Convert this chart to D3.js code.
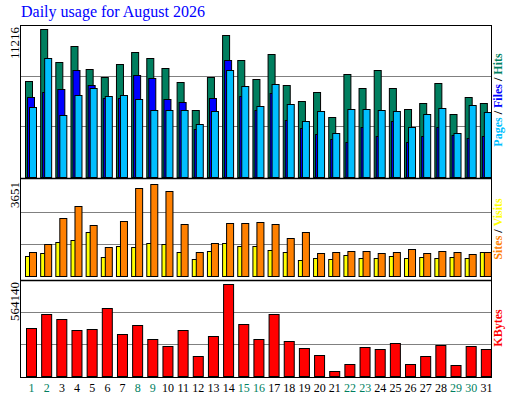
<!DOCTYPE html><html><head><meta charset="utf-8">
<script src="https://cdn.jsdelivr.net/npm/d3@7"></script>
<style>body{margin:0;background:#fff}</style></head><body><svg id="c" width="512" height="400"></svg>
<script>
const days=d3.range(1,32).map(String);
const weekendDays=["1","2","8","9","15","16","22","23","29","30"];
const hits=[7062,10899,8464,9644,7947,7357,8316,9202,8759,8021,6988,4922,7357,10456,8611,7209,9054,6767,5586,6250,4405,7578,6545,7873,6545,4996,5438,6914,4627,5925,5438];
const files=[5881,6272,6471,7873,6767,5807,5807,7504,7283,5734,5512,3520,5807,8611,5955,4922,6176,4184,3594,3151,2782,2561,3667,3003,4110,2561,3003,3667,3077,2856,3003];
const pages=[5143,8759,4553,6029,6545,5955,6029,5734,4922,4922,4922,3889,4848,7873,6693,5217,6840,5365,4110,4848,3225,4996,4996,4922,4848,3667,4627,5069,3225,5291,4774];
const visits=[748,862,1281,1357,1661,710,1129,1090,1243,1205,900,634,938,1243,1129,1129,976,900,596,672,634,786,672,672,748,672,710,672,710,672,900];
const sites=[900,1205,2194,2650,1927,1090,2080,3335,3487,3221,1965,900,1243,2003,2003,2041,1965,1433,1661,862,900,938,938,862,900,1014,862,938,900,824,900];
const kbytes=[280108,362378,333000,268356,274232,397636,244850,297738,215468,174333,268356,115569,233097,538670,303614,215468,362378,203715,162580,121446,27423,68558,168457,156704,191962,68558,115569,180209,62682,174333,156704];
const maxLabels=["11216","3651","564140"];
const maxVals=[11216,3651,564140];

const svg=d3.select("#c");
const L=20,R=491;
const x=d3.scaleBand().domain(days).range([L+1,R]);
const panels=[{t:25,b:177},{t:180,b:276},{t:280,b:376}];
const ys=panels.map((p,i)=>d3.scaleLinear().domain([0,maxVals[i]]).range([p.b,p.t]));
svg.append("text").attr("x",21).attr("y",17).attr("fill","#0000ff").attr("font-family","Liberation Serif, serif").attr("font-size",16).text("Daily usage for August 2026");
// grid
panels.forEach((p,i)=>{
  [1/3,2/3].forEach(f=>{const yy=Math.round(ys[i](maxVals[i]*f))+0.5;
    svg.append("line").attr("x1",L).attr("x2",R).attr("y1",yy).attr("y2",yy).attr("stroke","#808080");});
  svg.append("text").attr("transform",`translate(19,${p.t+2}) rotate(-90)`).attr("text-anchor","end")
    .attr("font-family","Liberation Serif, serif").attr("font-size",13).text(maxLabels[i]);
});
function bars(data,y,off,w,color){
  svg.append("g").selectAll("rect").data(data).join("rect")
   .attr("x",(d,i)=>x(days[i])+off+0.5).attr("width",w).attr("y",d=>Math.round(y(d))+0.5)
   .attr("height",d=>y(0)-Math.round(y(d))).attr("fill",color).attr("stroke","#000").attr("stroke-width",1);
}
bars(hits,ys[0],4,7,"#007f5f");
bars(files,ys[0],6,7,"#0000ff");
bars(pages,ys[0],8,7,"#00bfff");
bars(visits,ys[1],4,5,"#ffff00");
bars(sites,ys[1],8,7,"#ff8000");
bars(kbytes,ys[2],5,10,"#ff0000");
// frame
svg.append("rect").attr("x",L+0.5).attr("y",25.5).attr("width",R-L).attr("height",352).attr("fill","none").attr("stroke","#000");
[178.5,280.5].forEach(yy=>svg.append("line").attr("x1",L).attr("x2",R).attr("y1",yy).attr("y2",yy).attr("stroke","#000").attr("stroke-width",1.5));
// day labels
svg.append("g").selectAll("text").data(days).join("text")
 .attr("x",d=>x(d)+x.bandwidth()/2+3).attr("y",392).attr("text-anchor","middle")
 .attr("font-family","Liberation Serif, serif").attr("font-size",12)
 .attr("fill",d=>weekendDays.includes(d)?"#007f5f":"#000").text(d=>d);
// right legends
function legend(cy,parts){
  const t=svg.append("text").attr("transform",`translate(502,${cy}) rotate(-90)`).attr("text-anchor","middle")
   .attr("font-family","Liberation Serif, serif").attr("font-size",12).attr("font-weight","bold");
  parts.forEach(([s,c])=>t.append("tspan").attr("fill",c).text(s));
}
legend(100,[["Pages","#00bfff"],[" / ","#000"],["Files","#0000ff"],[" / ","#000"],["Hits","#007f5f"]]);
legend(229,[["Sites","#ff8000"],[" / ","#000"],["Visits","#ffff00"]]);
legend(328,[["KBytes","#ff0000"]]);
</script></body></html>
